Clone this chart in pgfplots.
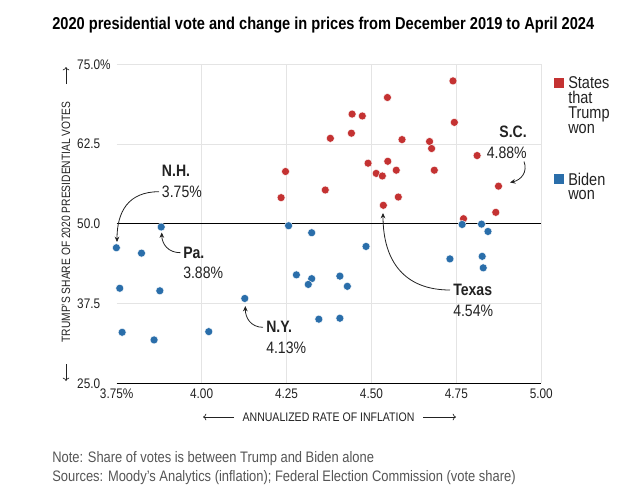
\documentclass[border=0pt]{standalone}
\usepackage{fontspec}
\setmainfont{Liberation Sans}[FakeStretch=0.85]
\usepackage{pgfplots}
\pgfplotsset{compat=1.18}
\usetikzlibrary{arrows.meta}
\definecolor{trumpred}{RGB}{196,50,50}
\definecolor{bidenblue}{RGB}{42,110,170}
\definecolor{gridgray}{RGB}{228,228,228}
\definecolor{txt}{RGB}{34,34,34}
\definecolor{notegray}{RGB}{85,85,85}
\newcommand\annfont{\fontsize{12.4}{14}\selectfont}
\newcommand\legfont{\fontsize{12.8}{11.1}\selectfont}
\begin{document}
\begin{tikzpicture}[x=0.75pt,y=-0.75pt]
\path[use as bounding box] (0,0) rectangle (625,500);
\begin{axis}[
  at={(87.525pt,-287.475pt)}, anchor=south west,
  scale only axis, width=318.45pt, height=239.25pt,
  xmin=3.75, xmax=5, ymin=25, ymax=75,
  xtick={4,4.25,4.5,4.75,5}, xticklabels={4.00,4.25,4.50,4.75,5.00},
  extra x ticks={3.75}, extra x tick labels={3.75\%},
  extra x tick style={grid=none},
  ytick={25,37.5,50,62.5,75}, yticklabels={25.0,37.5,50.0,62.5,75.0\%},
  grid=major, major grid style={gridgray, line width=0.75pt},
  axis line style={draw=none}, major tick length=0pt,
  /pgf/number format/assume math mode=true,
  tick label style={font=\fontsize{10.4}{12}\selectfont, text=txt, inner sep=0pt},
  xticklabel style={yshift=-4pt},
  yticklabel style={anchor=west, xshift=-29.8pt},
  clip=false,
]
\draw[black, line width=0.75pt] (rel axis cs:0,0) -- (rel axis cs:1,0);
\addplot[black, line width=0.75pt, forget plot] coordinates {(3.75,50) (5,50)};
\addplot[only marks, mark=*, mark size=3pt, mark options={fill=trumpred, draw=white, line width=0.3pt}] coordinates {
(4.740,72.4) (4.547,69.8) (4.443,67.2) (4.473,66.9) (4.744,65.9) (4.379,63.4)
(4.441,64.2) (4.590,63.2) (4.671,62.9) (4.677,61.8) (4.811,60.7) (4.490,59.5)
(4.548,59.8) (4.514,57.9) (4.532,57.5) (4.573,58.4) (4.685,58.4) (4.364,55.3)
(4.874,55.9) (4.579,54.2) (4.535,52.9) (4.866,51.8) (4.771,50.8) (4.247,58.2)
(4.234,54.1)};
\addplot[only marks, mark=*, mark size=3pt, mark options={fill=bidenblue, draw=white, line width=0.3pt}] coordinates {
(3.749,46.25) (3.881,49.5) (3.823,45.4) (3.759,39.9) (3.877,39.5) (3.766,33.0)
(3.860,31.8) (4.021,33.1) (4.127,38.3) (4.256,49.7) (4.324,48.6) (4.279,42.0)
(4.324,41.4) (4.314,40.5) (4.345,35.05) (4.484,46.45) (4.407,41.8) (4.429,40.2)
(4.407,35.2) (4.731,44.5) (4.767,49.9) (4.824,49.95) (4.843,48.8) (4.826,44.9)
(4.829,43.1)};
\end{axis}
% title
\node[anchor=base west, inner sep=0, font=\bfseries\fontsize{12.9}{15}\selectfont, text=black] at (52,29.3)
  {2020 presidential vote and change in prices from December 2019 to April 2024};
% y label
\node[rotate=90, inner sep=0, font=\fontsize{9.05}{11}\selectfont, text=txt] at (66,222)
  {TRUMP’S SHARE OF 2020 PRESIDENTIAL VOTES};
\draw[txt, line width=0.5pt, -{To[length=2.5pt,width=5pt]}] (66,84) -- (66,67);
\draw[txt, line width=0.5pt, -{To[length=2.5pt,width=5pt]}] (66,364) -- (66,381);
% x label
\node[inner sep=0, font=\fontsize{9.3}{11}\selectfont, text=txt] at (328.5,417)
  {ANNUALIZED RATE OF INFLATION};
\draw[txt, line width=0.5pt, -{To[length=2.5pt,width=5pt]}] (234,417) -- (203,417);
\draw[txt, line width=0.5pt, -{To[length=2.5pt,width=5pt]}] (423,417) -- (456,417);
% notes
\node[anchor=base west, inner sep=0, font=\fontsize{11.4}{13}\selectfont, text=notegray] at (52,462)
  {Note: Share of votes is between Trump and Biden alone};
\node[anchor=base west, inner sep=0, font=\fontsize{11.4}{13}\selectfont, text=notegray] at (52,481)
  {Sources: Moody’s Analytics (inflation); Federal Election Commission (vote share)};
% legend
\fill[trumpred] (554,77.5) rectangle (564,87.5);
\fill[bidenblue] (554,174) rectangle (564,184);
\node[anchor=north west, inner sep=0, align=left, font=\legfont, text=txt] at (568,76.5)
  {States\\that\\Trump\\won};
\node[anchor=north west, inner sep=0, align=left, font=\legfont, text=txt] at (568,172.5)
  {Biden\\won};
% annotations
\node[anchor=west, inner sep=0, font=\annfont\bfseries, text=txt] at (161.7,170.7) {N.H.};
\node[anchor=west, inner sep=0, font=\annfont, text=txt] at (161.7,191.7) {3.75\%};
\draw[txt, line width=0.6pt, -{Stealth[length=4pt,width=3.5pt]}] (159,191.7) .. controls (128,191.7) and (117,212) .. (117,242);
\node[anchor=west, inner sep=0, font=\annfont\bfseries, text=txt] at (183,252.7) {Pa.};
\node[anchor=west, inner sep=0, font=\annfont, text=txt] at (183,273.3) {3.88\%};
\draw[txt, line width=0.6pt, -{Stealth[length=4pt,width=3.5pt]}] (180.5,252.7) .. controls (168,252.7) and (162,244) .. (161.7,232.5);
\node[anchor=west, inner sep=0, font=\annfont\bfseries, text=txt] at (266,327.3) {N.Y.};
\node[anchor=west, inner sep=0, font=\annfont, text=txt] at (266,347.7) {4.13\%};
\draw[txt, line width=0.6pt, -{Stealth[length=4pt,width=3.5pt]}] (263,327.3) .. controls (251,327.3) and (245.3,318) .. (245.3,306);
\node[anchor=west, inner sep=0, font=\annfont\bfseries, text=txt] at (453,290) {Texas};
\node[anchor=west, inner sep=0, font=\annfont, text=txt] at (453,311) {4.54\%};
\draw[txt, line width=0.6pt, -{Stealth[length=4pt,width=3.5pt]}] (450,290) .. controls (405,290) and (383,262) .. (383,213);
\node[anchor=east, inner sep=0, font=\annfont\bfseries, text=txt] at (527,132.3) {S.C.};
\node[anchor=east, inner sep=0, font=\annfont, text=txt] at (527,153.3) {4.88\%};
\draw[txt, line width=0.6pt, -{Stealth[length=4pt,width=3.5pt]}] (524,161.5) .. controls (528,172) and (521,180) .. (510,182.5);
\end{tikzpicture}
\end{document}
